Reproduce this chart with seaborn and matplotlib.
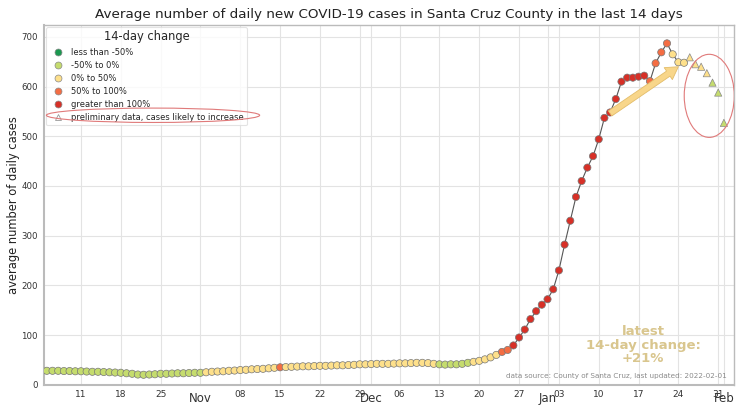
import matplotlib
matplotlib.use("Agg")
import matplotlib.pyplot as plt
import matplotlib.dates as mdates
from matplotlib.patches import Ellipse
from matplotlib.lines import Line2D
import seaborn as sns
import pandas as pd

# ---------------- data ----------------
start_date = "2021-10-05"
avg_cases = [
    28, 28, 28, 27.5, 27.5, 27, 27,
    26.5, 26, 26, 25.5, 25, 24.5, 24,
    23, 22, 20.5, 20, 20.5, 21, 22,
    22, 22.5, 23, 23, 23.5, 24, 24,
    25, 26, 26.5, 27, 28, 28.5, 29.5,
    30, 31, 31.5, 32, 33, 34, 35,
    35.5, 36, 36.5, 37, 37, 37.5, 38,
    38, 38.5, 39, 39, 39.5, 40, 41,
    41, 41.5, 42, 42, 42, 42.5, 43,
    43, 43.5, 44, 44, 43.5, 42, 41,
    40.5, 41, 41, 42, 44, 46, 48,
    51, 55, 60, 66, 70, 79, 95,
    111, 132, 148, 161, 172, 192, 230,
    282, 330, 378, 410, 437, 460, 494,
    537, 548, 575, 610, 618, 618, 620,
    622, 611, 647, 669, 687, 665, 649,
    648, 659, 645, 640, 627, 608, 588,
    527,
]
# 14-day change class, as runs of (class, number of days)
change_runs = [
    ("-50% to 0%", 28), ("0% to 50%", 13), ("50% to 100%", 1),
    ("0% to 50%", 27), ("-50% to 0%", 6), ("0% to 50%", 5),
    ("50% to 100%", 2), ("greater than 100%", 24), ("50% to 100%", 4),
    ("0% to 50%", 7), ("-50% to 0%", 3),
]
preliminary_days = 7
class_names = ["less than -50%", "-50% to 0%", "0% to 50%",
               "50% to 100%", "greater than 100%"]
class_colors = ["#1a9850", "#c5dc6e", "#fee08b", "#f46d43", "#d73027"]
latest_change = "+21%"
last_updated = "2022-02-01"

# ---------------- frame ----------------
change_class = [c for c, n in change_runs for _ in range(n)]
dates = pd.date_range(start_date, periods=len(avg_cases), freq="D")
df = pd.DataFrame({"date": dates, "cases": avg_cases, "change": change_class})
df["prelim"] = False
df.loc[df.index[-preliminary_days:], "prelim"] = True
final = df[~df["prelim"]]
prelim = df[df["prelim"]]
palette = dict(zip(class_names, class_colors))

sns.set_style("whitegrid")
plt.rcParams["font.family"] = ["DejaVu Sans"]

fig = plt.figure(figsize=(7.43, 4.07), dpi=100)
ax = fig.add_axes([0.0592, 0.0548, 0.9288, 0.8838])

sns.lineplot(data=final, x="date", y="cases", color="#555555", lw=0.8,
             ax=ax, zorder=2)
sns.scatterplot(data=final, x="date", y="cases", hue="change",
                palette=palette, hue_order=class_names, s=27, marker="o",
                edgecolor="#777777", linewidth=0.5, ax=ax, legend=False,
                zorder=3)
sns.scatterplot(data=prelim, x="date", y="cases", hue="change",
                palette=palette, hue_order=class_names, s=27, marker="^",
                edgecolor="#888888", linewidth=0.5, ax=ax, legend=False,
                zorder=3)

ax.set_xlim(pd.Timestamp("2021-10-04 12:00"), pd.Timestamp("2022-02-02 19:00"))
ax.set_ylim(0, 724)
ax.set_yticks(range(0, 701, 100))

ax.xaxis.set_major_locator(mdates.MonthLocator())
ax.xaxis.set_major_formatter(mdates.DateFormatter("%b"))
ax.xaxis.set_minor_locator(mdates.WeekdayLocator(byweekday=mdates.MO))
ax.xaxis.set_minor_formatter(mdates.DateFormatter("%d"))
ax.tick_params(axis="x", which="minor", labelsize=6.5, length=2, pad=1.5,
               color="#aaaaaa", labelcolor="#333333")
ax.tick_params(axis="x", which="major", labelsize=8.5, length=2, pad=3.5,
               color="#aaaaaa", labelcolor="#333333")
ax.tick_params(axis="y", labelsize=6.2, length=3, pad=1.5, color="#aaaaaa",
               labelcolor="#333333")

ax.grid(which="major", color="#e3e3e3", linewidth=0.8)
ax.grid(which="minor", axis="x", color="#e3e3e3", linewidth=0.8)
for s in ax.spines.values():
    s.set_color("#bbbbbb")
    s.set_linewidth(1.0)
ax.spines["left"].set_linewidth(1.5)
ax.spines["bottom"].set_linewidth(1.5)

ax.set_xlabel("")
ax.set_ylabel("average number of daily cases", fontsize=8.3, color="#222222",
              labelpad=1)
ax.set_title("Average number of daily new COVID-19 cases in Santa Cruz County "
             "in the last 14 days", fontsize=9.7, color="#222222", pad=5)

handles = [Line2D([], [], marker="o", linestyle="", markersize=5,
                  markerfacecolor=c, markeredgecolor="#888888",
                  markeredgewidth=0.5, label=n)
           for n, c in zip(class_names, class_colors)]
handles.append(Line2D([], [], marker="^", linestyle="", markersize=5,
                      markerfacecolor="white", markeredgecolor="#999999",
                      markeredgewidth=0.6,
                      label="preliminary data, cases likely to increase"))
leg = ax.legend(handles=handles, title="14-day change", loc="upper left",
                fontsize=6.0, title_fontsize=8.3, frameon=True,
                borderaxespad=0.3, labelspacing=0.5, handletextpad=0.6,
                borderpad=0.35)
leg.get_frame().set_edgecolor("#dddddd")
leg.get_frame().set_linewidth(0.8)

# annotations
ax.add_patch(Ellipse((0.158, 0.749), 0.309, 0.04, transform=ax.transAxes,
                     fill=False, edgecolor="#e07a7a", lw=0.8, zorder=6))
ax.add_patch(Ellipse((0.964, 0.803), 0.0725, 0.231, transform=ax.transAxes,
                     fill=False, edgecolor="#e07a7a", lw=0.8, zorder=6))
ax.annotate("", xy=(pd.Timestamp("2022-01-24"), 640),
            xytext=(pd.Timestamp("2022-01-12"), 546),
            arrowprops=dict(arrowstyle="simple,head_width=1.3,head_length=1.1,tail_width=0.55",
                            mutation_scale=8, fc="#f8d68a", ec="#e3bd6a",
                            lw=0.6, shrinkA=0, shrinkB=0), zorder=5)
ax.text(0.868, 0.11, "latest\n14-day change:\n" + latest_change,
        transform=ax.transAxes, ha="center", va="center", fontsize=9.5,
        fontweight="bold", color="#d9c68e", linespacing=1.05, zorder=6)
ax.text(0.99, 0.025, "data source: County of Santa Cruz, last updated: " + last_updated,
        transform=ax.transAxes, ha="right", va="center", fontsize=5.2,
        color="#8a8a8a", zorder=6)

fig.savefig("out.png", dpi=100)
